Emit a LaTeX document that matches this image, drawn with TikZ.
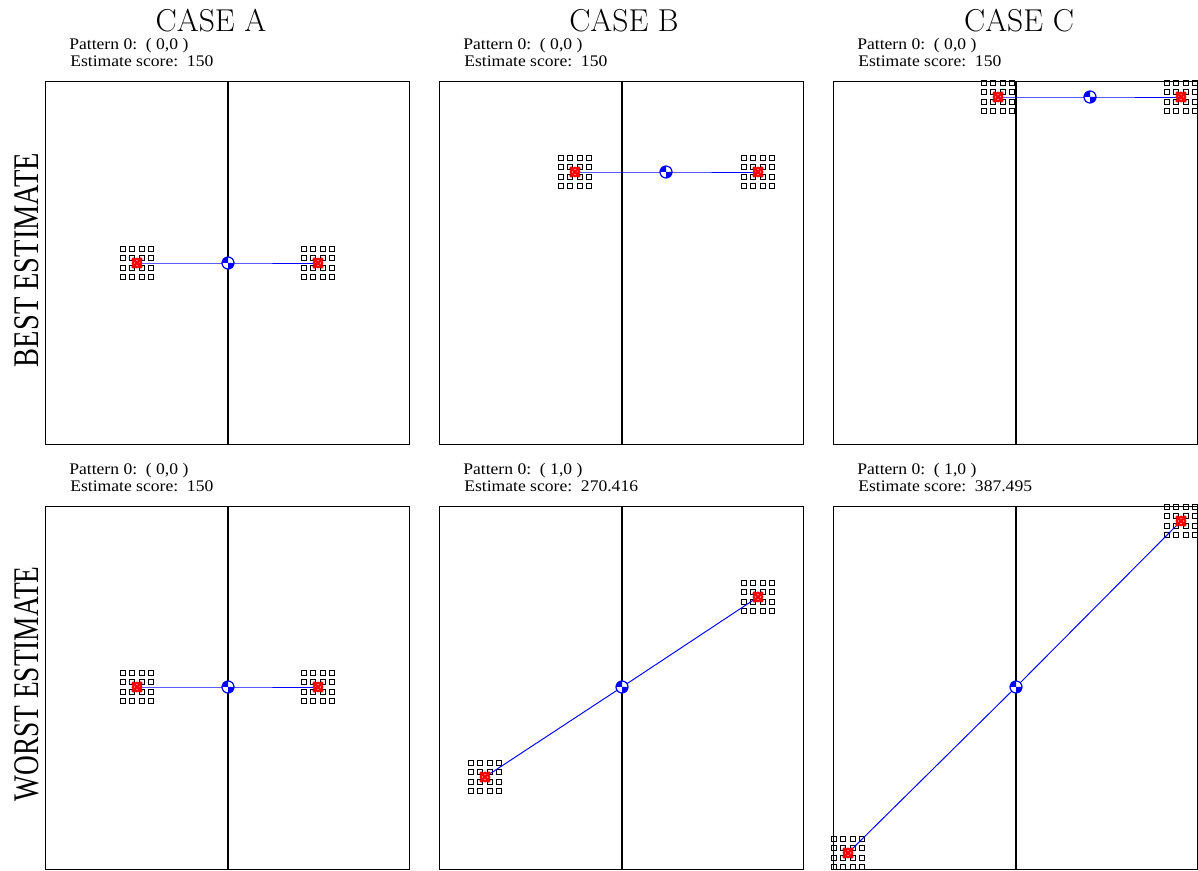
\documentclass[tikz,border=0pt]{standalone}
\usepackage{graphicx}
\usepackage{fontspec}
\newfontfamily\timesfont{Liberation Serif}
\usetikzlibrary{positioning}
\tikzset{
  frame/.style={
    draw,
    line width=0.5pt
  },
  midline/.style={
    draw,
    line width=0.7pt
  },
  link/.style={
    draw=blue,
    line width=0.55pt
  },
  cell/.style={
    draw,
    line width=0.5pt
  },
  casehead/.style={
    anchor=base,
    inner sep=0pt,
    font=\fontsize{18}{20}\selectfont
  },
  rowhead/.style={
    rotate=90,
    anchor=base,
    inner sep=0pt,
    font=\timesfont\fontsize{20.5}{22}\selectfont
  },
  info/.style={
    anchor=base west,
    inner sep=0pt,
    font=\timesfont\fontsize{10}{10}\selectfont
  }
}
% 4x4 block of small squares round a point
\newcommand{\cellblock}[1]{%
  \foreach \i in {-1.5,-0.5,0.5,1.5}
    \foreach \j in {-1.5,-0.5,0.5,1.5}
      \draw[cell, shift={(#1)}] (\i*9.4-2.5,\j*9.4-2.5) rectangle ++(5,5);}
% red hit marker
\newcommand{\hitmark}[1]{%
  \draw[red, line width=1.2pt] (#1) circle (4.3);
  \draw[red, line width=1.6pt, shift={(#1)}] (-4.8,-4.8) -- (4.8,4.8) (-4.8,4.8) -- (4.8,-4.8);}
% blue centre marker
\newcommand{\centremark}[1]{%
  \fill[white] (#1) circle (6);
  \fill[blue, shift={(#1)}] (0,0) -- (-6,0) arc (180:270:6) -- cycle;
  \fill[blue, shift={(#1)}] (0,0) -- (6,0) arc (0:90:6) -- cycle;
  \draw[blue, line width=0.7pt] (#1) circle (6);}

\begin{document}
\begin{tikzpicture}[x=0.02cm, y=-0.02cm]
\useasboundingbox (0,0) rectangle (1198,871);
% column and row titles
\node[casehead] (caseA) at (211,32) {CASE A};
\node[casehead] (caseB) at (624,32) {CASE B};
\node[casehead] (caseC) at (1019,32) {CASE C};
\node[rowhead] (best) at (38,260) {\scalebox{0.79}[1]{BEST ESTIMATE}};
\node[rowhead] (worst) at (38,684) {\scalebox{0.76}[1]{WORST ESTIMATE}};
% panels
\foreach \p/\fx/\fy/\lx/\ly/\mx/\my/\rx/\ry/\pa/\sc in {
    A1/45/81/137/263/228/263/318/263/0/150,
    B1/439/81/575/172/666/172/758/172/0/150,
    C1/833/81/998/97/1090/97/1181/97/0/150,
    A2/45/506/137/687/228/687/318/687/0/150,
    B2/439/506/485/777/622/687/758/597/1/270.416,
    C2/833/506/848/853/1016/687/1181/521/1/387.495}{
  \node[info] (pat-\p) at (\fx+24,\fy-31) {\scalebox{1}[0.92]{Pattern 0:~~( \pa,0 )}};
  \node[info] (est-\p) at (\fx+25,\fy-14) {\scalebox{1}[0.92]{Estimate score:~~\sc}};
  \draw[frame] (\fx,\fy) rectangle ++(364,363);
  \draw[midline] (\fx+183,\fy) -- (\fx+183,\fy+363);
  \coordinate (lo-\p) at (\lx,\ly);
  \coordinate (mid-\p) at (\mx,\my);
  \coordinate (hi-\p) at (\rx,\ry);
  \cellblock{lo-\p}
  \cellblock{hi-\p}
  \draw[link] (lo-\p) -- (mid-\p) -- (hi-\p);
  \hitmark{lo-\p}
  \hitmark{hi-\p}
  \centremark{mid-\p}
}
\end{tikzpicture}
\end{document}
